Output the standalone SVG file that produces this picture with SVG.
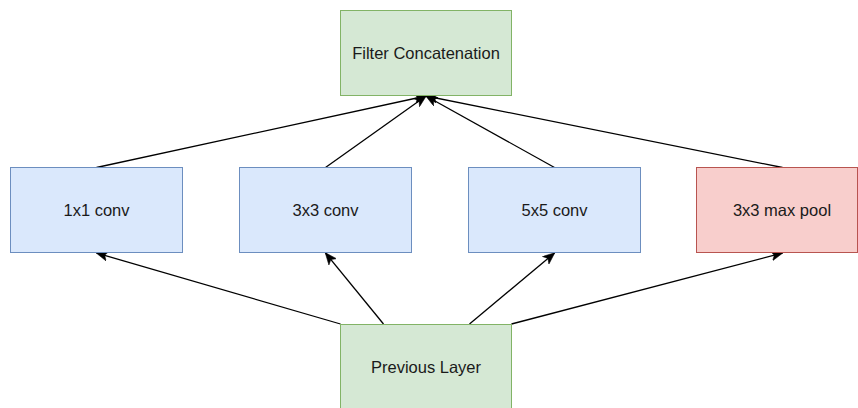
<svg xmlns="http://www.w3.org/2000/svg" width="858" height="408" viewBox="0 0 858 408">
<style>
.blue{fill:#dae8fc;stroke:#6c8ebf;stroke-width:1}
.green{fill:#d5e8d4;stroke:#82b366;stroke-width:1}
.red{fill:#f8cecc;stroke:#b85450;stroke-width:1}
.lbl{font-family:"Liberation Sans",Arial,Helvetica,sans-serif;font-size:16.5px;fill:#1a1a1a;text-anchor:middle;dominant-baseline:central}
.edge{stroke:#000;stroke-width:1.3;fill:none;marker-end:url(#arrow)}
</style>
<defs>
<marker id="arrow" viewBox="0 0 12 10" markerWidth="12" markerHeight="10" refX="11.5" refY="5" orient="auto" markerUnits="userSpaceOnUse">
<path d="M0,0 L12,5 L0,10 L3,5 z" fill="#000" stroke="#000" stroke-width="0.5"/>
</marker>
</defs>
<rect width="858" height="408" fill="#fff"/>
<g id="connectors">
<line class="edge" x1="96.5" y1="167.5" x2="426" y2="96"/>
<line class="edge" x1="325.5" y1="167.5" x2="426" y2="96"/>
<line class="edge" x1="554.5" y1="167.5" x2="426" y2="96"/>
<line class="edge" x1="782.5" y1="167.5" x2="426" y2="96"/>
<line class="edge" x1="340.5" y1="324" x2="96.5" y2="253"/>
<line class="edge" x1="383.5" y1="324" x2="325.5" y2="253"/>
<line class="edge" x1="469.5" y1="324" x2="554.5" y2="253"/>
<line class="edge" x1="511.5" y1="324" x2="782.5" y2="253"/>
</g>
<g id="filter-concat">
<rect class="green" x="340.5" y="10.5" width="171" height="85"/>
<text class="lbl" x="426" y="53">Filter Concatenation</text>
</g>
<g id="conv1x1">
<rect class="blue" x="10.5" y="167.5" width="172" height="85"/>
<text class="lbl" x="96.5" y="210">1x1 conv</text>
</g>
<g id="conv3x3">
<rect class="blue" x="239.5" y="167.5" width="172" height="85"/>
<text class="lbl" x="325.5" y="210">3x3 conv</text>
</g>
<g id="conv5x5">
<rect class="blue" x="468.5" y="167.5" width="172" height="85"/>
<text class="lbl" x="554.5" y="210">5x5 conv</text>
</g>
<g id="maxpool">
<rect class="red" x="696.5" y="167.5" width="161" height="85"/>
<text class="lbl" x="782" y="210">3x3 max pool</text>
</g>
<g id="previous-layer">
<rect class="green" x="340.5" y="324.5" width="171" height="90"/>
<text class="lbl" x="426" y="366.5">Previous Layer</text>
</g>
</svg>
